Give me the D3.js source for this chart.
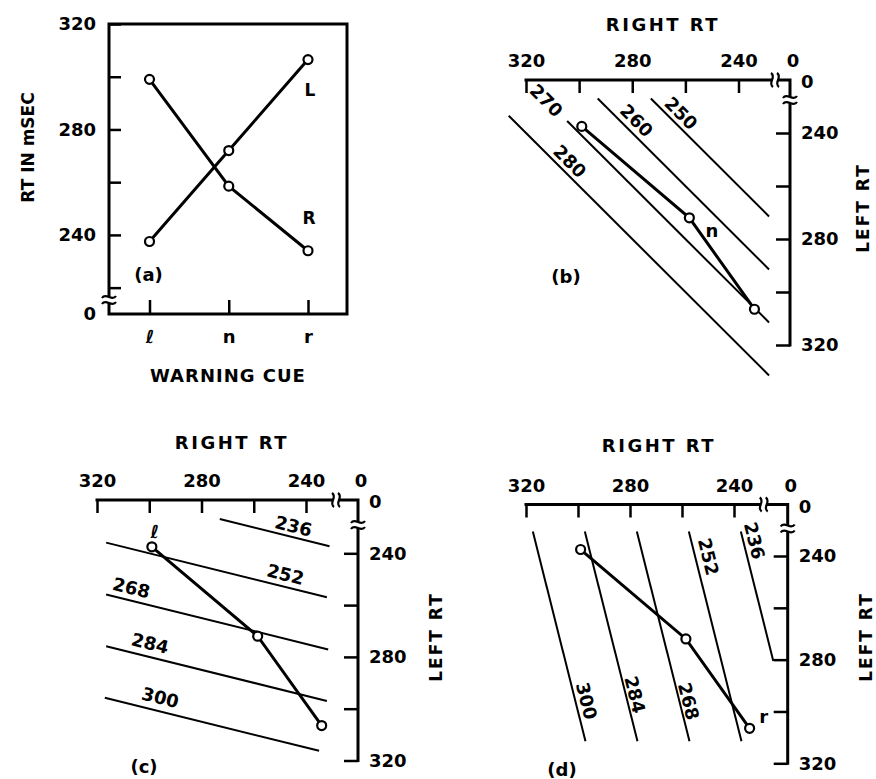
<!DOCTYPE html>
<html>
<head>
<meta charset="utf-8">
<script src="https://cdn.jsdelivr.net/npm/d3@7"></script>
<style>
  html, body { margin: 0; padding: 0; background: #fff; }
  svg text { font-family: "DejaVu Sans", sans-serif; font-weight: bold; fill: #000; }
</style>
</head>
<body>
<svg id="fig" width="876" height="779"></svg>
<script>
// Warning cues and mean reaction times (msec) of each hand
const cues = ["ℓ", "n", "r"];
const leftRT = [237.5, 272, 306.5];
const rightRT = [299, 258.5, 234];
const seriesNames = ["L", "R"];

// Panel (a) value axis
const rtMajorTicks = [240, 280, 320];
const rtMinorTicks = [220, 260, 300];

// Panels (b)-(d): ticks on the right-RT and left-RT axes
const rtAxisTicks = [320, 300, 280, 260, 240];
const rtAxisLabels = [320, 280, 240];

// Iso-lines: w * LeftRT + (1 - w) * RightRT = value
const isoValuesB = [250, 260, 270, 280];
const isoValuesC = [236, 252, 268, 284, 300];
const isoValuesD = [236, 252, 268, 284, 300];
const leftWeightB = 0.5, leftWeightC = 0.8, leftWeightD = 0.2;

// Drawn extent of each iso-line (right RT for b, c; left RT for d)
const isoFromB = [273, 293, 304.5, 326.5];
const isoToB = [228.5, 228.5, 228.5, 228.5];
const isoFromC = [273, 316.5, 316.5, 316.5, 317];
const isoToC = [231, 232, 231.5, 232, 235];
const isoFromD = [230.5, 230.5, 230.5, 230.5, 230.5];
const isoToD = [280.5, 311.5, 311.5, 311.5, 311.5];

// Where each iso-line's value label sits along the line
const isoLabelAtB = [264.5, 281.5, 312.3, 306.4];
const isoLabelAtC = [245.8, 249, 308, 300.9, 297];
const isoLabelAtD = [235.1, 241.5, 296.9, 294.3, 296.9];

const ink = "#000";
const svg = d3.select("#fig");

function styleAxis(sel) {
  sel.attr("font-family", null).attr("font-size", null);
  sel.select(".domain").remove();
  sel.selectAll(".tick line").attr("stroke", ink).attr("stroke-width", 2.5);
  sel.selectAll(".tick text").attr("fill", ink).style("font-size", "18px");
}

// Axis break: two wavy strokes across the axis
function breakMark(g, cx, cy, onVerticalAxis) {
  const b = g.append("g")
    .attr("transform", `translate(${cx},${cy})${onVerticalAxis ? "" : " rotate(90)"}`);
  b.append("rect").attr("x", -3).attr("y", -3).attr("width", 6).attr("height", 6).attr("fill", "#fff");
  [-3, 3].forEach(o => {
    b.append("path")
      .attr("d", `M-7,${o + 1} C-3,${o - 5} 3,${o + 5} 7,${o - 1}`)
      .attr("fill", "none").attr("stroke", ink).attr("stroke-width", 2.2);
  });
}

function txt(g, s, x, y, size, opts = {}) {
  const t = g.append("text")
    .attr("x", x).attr("y", y)
    .attr("text-anchor", opts.anchor || "middle")
    .style("font-size", size + "px")
    .text(s);
  if (opts.dy) t.attr("dy", opts.dy);
  if (opts.ls) t.style("letter-spacing", opts.ls + "px");
  if (opts.transform) t.attr("transform", opts.transform).attr("x", null).attr("y", null);
  return t;
}

// ---------- (a) RT of each hand against warning cue ----------
(function () {
  const g = svg.append("g");
  const left = 109, right = 347;
  const x = d3.scalePoint().domain(cues).range([149.5, 308]);
  const y = d3.scaleLinear().domain([210, 320]).range([314, 24]);

  g.append("rect")
    .attr("x", left).attr("y", y(320))
    .attr("width", right - left).attr("height", y(210) - y(320))
    .attr("fill", "none").attr("stroke", ink).attr("stroke-width", 3);

  const yAxis = d3.axisLeft(y)
    .tickValues([...rtMinorTicks, ...rtMajorTicks].sort((a, b) => a - b))
    .tickSizeInner(-12).tickSizeOuter(0).tickPadding(13)
    .tickFormat(d => rtMajorTicks.includes(d) ? d : "");
  g.append("g").attr("transform", `translate(${left},0)`).call(yAxis).call(styleAxis);

  const xAxis = d3.axisBottom(x).tickSizeInner(-14).tickSizeOuter(0).tickPadding(16);
  g.append("g").attr("transform", `translate(0,${y(210)})`).call(xAxis).call(styleAxis);

  breakMark(g, left, 300, true);
  txt(g, "0", 96, 313.5, 18, { anchor: "end", dy: "0.36em" });

  const series = [leftRT, rightRT];
  const line = d3.line().x((d, i) => x(cues[i])).y(d => y(d));
  series.forEach((vals, s) => {
    g.append("path").attr("d", line(vals))
      .attr("fill", "none").attr("stroke", ink).attr("stroke-width", 3);
    g.selectAll(null).data(vals).join("circle")
      .attr("cx", (d, i) => x(cues[i])).attr("cy", d => y(d)).attr("r", 4.5)
      .attr("fill", "#fff").attr("stroke", ink).attr("stroke-width", 2.2);
  });
  // series names next to the last cue
  txt(g, seriesNames[0], x("r") + 2, y(leftRT[2]) + 30, 17, { dy: "0.36em" });
  txt(g, seriesNames[1], x("r") + 1, y(rightRT[2]) - 33, 17, { dy: "0.36em" });

  txt(g, "(a)", 148.5, 275, 18, { dy: "0.36em" });
  txt(g, "WARNING CUE", 228, 381.5, 18, { ls: 1 });
  txt(g, "RT IN mSEC", 0, 0, 17, { transform: "translate(34,147.5) rotate(-90)" });
})();

// ---------- (b)-(d) left RT against right RT with iso-lines ----------
function rtPanel(p) {
  const g = svg.append("g");
  const x = d3.scaleLinear().domain([320, 240]).range([p.x320, p.x240]);
  const y = d3.scaleLinear().domain([240, 320]).range([p.y240, p.y320]);
  const w = p.w;

  p.values.forEach((v, i) => {
    const at = t => p.param === "right"
      ? [x(t), y((v - (1 - w) * t) / w)]
      : [x((v - w * t) / (1 - w)), y(t)];
    const a = at(p.from[i]), b = at(p.to[i]);
    g.append("line")
      .attr("x1", a[0]).attr("y1", a[1]).attr("x2", b[0]).attr("y2", b[1])
      .attr("stroke", ink).attr("stroke-width", 2);
    const ang = Math.atan2(b[1] - a[1], b[0] - a[0]);
    const c = at(p.labelAt[i]);
    const off = p.labelOffset[i];
    const lx = c[0] + off * Math.sin(ang), ly = c[1] - off * Math.cos(ang);
    txt(g, v, 0, 0, 18, { dy: "0.36em", transform: `translate(${lx},${ly}) rotate(${ang * 180 / Math.PI})` });
  });

  const pts = cues.map((c, i) => ({ c, R: rightRT[i], L: leftRT[i] }));
  g.append("path")
    .attr("d", d3.line().x(d => x(d.R)).y(d => y(d.L))(pts))
    .attr("fill", "none").attr("stroke", ink).attr("stroke-width", 3);
  g.selectAll(null).data(pts).join("circle")
    .attr("cx", d => x(d.R)).attr("cy", d => y(d.L)).attr("r", 4.5)
    .attr("fill", "#fff").attr("stroke", ink).attr("stroke-width", 2.2);

  const fmt = d => rtAxisLabels.includes(d) ? d : "";
  const xAxis = d3.axisTop(x).tickValues(rtAxisTicks)
    .tickSizeInner(-13).tickSizeOuter(0).tickPadding(13).tickFormat(fmt);
  g.append("g").attr("transform", `translate(0,${p.y0})`).call(xAxis).call(styleAxis);
  const yAxis = d3.axisRight(y).tickValues(rtAxisTicks)
    .tickSizeInner(-14).tickSizeOuter(0).tickPadding(11).tickFormat(fmt);
  g.append("g").attr("transform", `translate(${p.x0},0)`).call(yAxis).call(styleAxis);

  g.append("path")
    .attr("d", `M${x(320)},${p.y0}H${p.x0}V${y(320)}`)
    .attr("fill", "none").attr("stroke", ink).attr("stroke-width", 3)
    .attr("stroke-linejoin", "miter").attr("stroke-linecap", "square");
  breakMark(g, p.x0 - p.xBreak, p.y0, false);
  breakMark(g, p.x0, p.y0 + p.yBreak, true);

  txt(g, "0", p.x0 + 3, p.y0 - 13, 18);
  txt(g, "0", p.x0 + 11, p.y0 + 2, 18, { anchor: "start", dy: "0.36em" });

  txt(g, "RIGHT RT", p.titleX, p.titleY, 18, { ls: 2.5 });
  txt(g, "LEFT RT", 0, 0, 17, { ls: 2, transform: `translate(${p.leftTitleX},${p.leftTitleY}) rotate(-90)` });
  txt(g, p.tag, p.tagX, p.tagY, 18, { dy: "0.36em" });

  const n = pts[p.note.i];
  txt(g, cues[p.note.i], x(n.R) + p.note.dx, y(n.L) + p.note.dy, 18, { dy: "0.36em" });
}

rtPanel({
  x320: 526, x240: 738.5, x0: 790, y0: 80, y240: 133, y320: 345,
  xBreak: 15, yBreak: 20,
  w: leftWeightB, param: "right", values: isoValuesB, from: isoFromB, to: isoToB,
  labelAt: isoLabelAtB, labelOffset: [11, 12, 0, 11],
  titleX: 663, titleY: 30.5, leftTitleX: 868.5, leftTitleY: 208,
  tag: "(b)", tagX: 566, tagY: 277, note: { i: 1, dx: 22.5, dy: 13 }
});
rtPanel({
  x320: 97, x240: 306, x0: 358, y0: 500, y240: 553.3, y320: 760.5,
  xBreak: 22, yBreak: 25,
  w: leftWeightC, param: "right", values: isoValuesC, from: isoFromC, to: isoToC,
  labelAt: isoLabelAtC, labelOffset: [11, 12.5, 12.5, 13.5, 13.5],
  titleX: 232, titleY: 449.3, leftTitleX: 442, leftTitleY: 637,
  tag: "(c)", tagX: 144, tagY: 767, note: { i: 0, dx: 3, dy: -15 }
});
rtPanel({
  x320: 526, x240: 734, x0: 787.7, y0: 504.5, y240: 556, y320: 763.3,
  xBreak: 24, yBreak: 24,
  w: leftWeightD, param: "left", values: isoValuesD, from: isoFromD, to: isoToD,
  labelAt: isoLabelAtD, labelOffset: [11, 13, 9, 9, 11],
  titleX: 659, titleY: 451.7, leftTitleX: 871.5, leftTitleY: 637,
  tag: "(d)", tagX: 562, tagY: 770, note: { i: 2, dx: 14, dy: -12 }
});
</script>
</body>
</html>
